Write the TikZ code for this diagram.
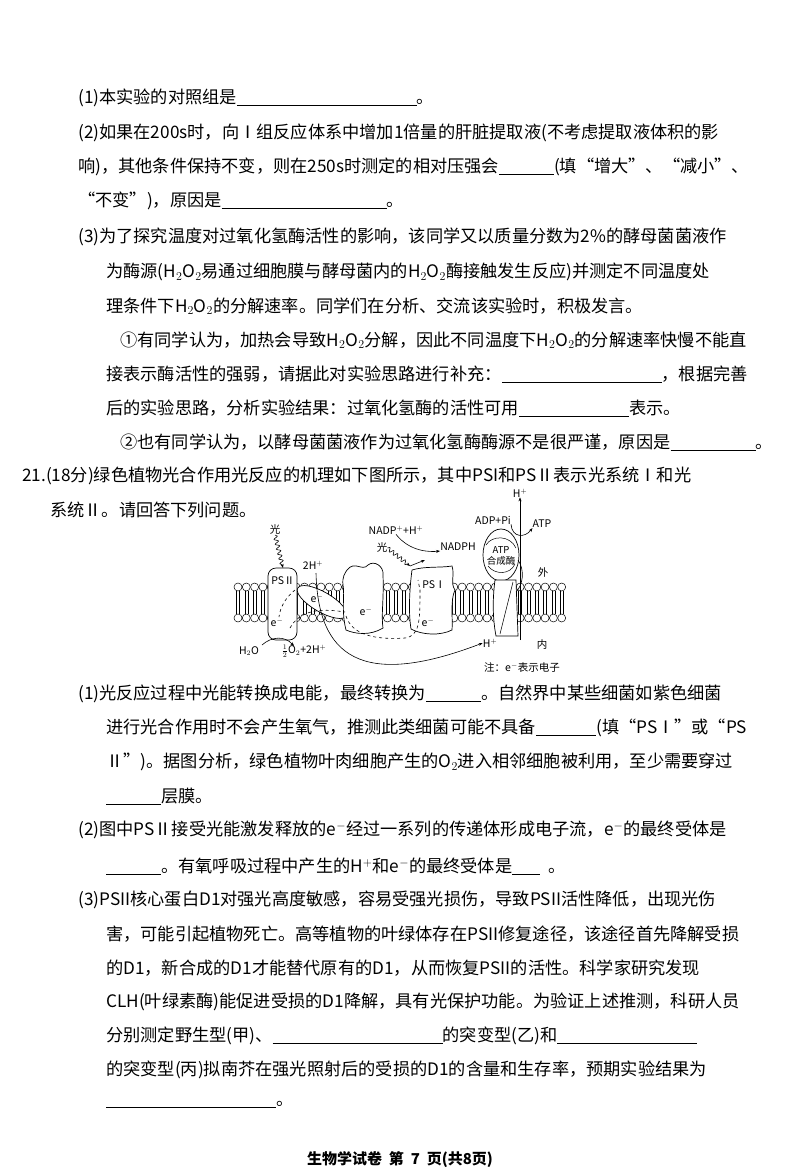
\documentclass[tikz,border=0pt]{standalone}
\usepackage{fontspec}
\setmainfont{Noto Sans CJK SC}
\usetikzlibrary{decorations.pathmorphing,arrows.meta}
\newcommand{\blank}[1]{\rule[-2pt]{#1pt}{0.6pt}}
\begin{document}
\begin{tikzpicture}[x=1pt,y=-1pt,
  tl/.style={anchor=west,inner sep=0pt,font=\fontsize{17.2}{20}\selectfont},
  dl/.style={inner sep=0pt,font=\fontsize{10.5}{12}\selectfont},
  prot/.style={draw,fill=white,line width=0.7pt},
  ea/.style={-{Stealth[length=4pt]},line width=0.6pt},
  wav/.style={decorate,decoration={snake,amplitude=2pt,segment length=5pt,post length=3pt},-{Stealth[length=4pt]},line width=0.6pt}]
\useasboundingbox (0,0) rectangle (800,1176);
\fill[white] (0,0) rectangle (800,1176);
% text
\node[tl] (l1) at (78,98) {(1)本实验的对照组是\blank{180}。};
\node[tl] (l2) at (78,133) {(2)如果在200s时，向Ⅰ组反应体系中增加1倍量的肝脏提取液(不考虑提取液体积的影};
\node[tl] (l3) at (78,167) {响)，其他条件保持不变，则在250s时测定的相对压强会\blank{55}(填“增大”、“减小”、};
\node[tl] (l4) at (78,201) {“不变”)，原因是\blank{165}。};
\node[tl] (l5) at (78,237) {(3)为了探究温度对过氧化氢酶活性的影响，该同学又以质量分数为2\%的酵母菌菌液作};
\node[tl] (l6) at (106,272) {为酶源(H$_2$O$_2$易通过细胞膜与酵母菌内的H$_2$O$_2$酶接触发生反应)并测定不同温度处};
\node[tl] (l7) at (106,306) {理条件下H$_2$O$_2$的分解速率。同学们在分析、交流该实验时，积极发言。};
\node[tl] (l8) at (120,340) {①有同学认为，加热会导致H$_2$O$_2$分解，因此不同温度下H$_2$O$_2$的分解速率快慢不能直};
\node[tl] (l9) at (106,374) {接表示酶活性的强弱，请据此对实验思路进行补充：\blank{160}，根据完善};
\node[tl] (l10) at (106,408) {后的实验思路，分析实验结果：过氧化氢酶的活性可用\blank{110}表示。};
\node[tl] (l11) at (120,442) {②也有同学认为，以酵母菌菌液作为过氧化氢酶酶源不是很严谨，原因是\blank{85}。};
\node[tl] (l12) at (22,476) {21.(18分)绿色植物光合作用光反应的机理如下图所示，其中PSI和PSⅡ表示光系统Ⅰ和光};
\node[tl] (l13) at (50,510) {系统Ⅱ。请回答下列问题。};
\node[tl] (m1) at (78,694) {(1)光反应过程中光能转换成电能，最终转换为\blank{55}。自然界中某些细菌如紫色细菌};
\node[tl] (m2) at (106,728) {进行光合作用时不会产生氧气，推测此类细菌可能不具备\blank{60}(填“PSⅠ”或“PS};
\node[tl] (m3) at (106,762) {Ⅱ”)。据图分析，绿色植物叶肉细胞产生的O$_2$进入相邻细胞被利用，至少需要穿过};
\node[tl] (m4) at (106,796) {\blank{55}层膜。};
\node[tl] (m5) at (78,830) {(2)图中PSⅡ接受光能激发释放的e$^-$经过一系列的传递体形成电子流，e$^-$的最终受体是};
\node[tl] (m6) at (106,866) {\blank{55}。有氧呼吸过程中产生的H$^+$和e$^-$的最终受体是\blank{28}\ \ 。};
\node[tl] (m7) at (78,900) {(3)PSII核心蛋白D1对强光高度敏感，容易受强光损伤，导致PSII活性降低，出现光伤};
\node[tl] (m8) at (106,934) {害，可能引起植物死亡。高等植物的叶绿体存在PSII修复途径，该途径首先降解受损};
\node[tl] (m9) at (106,968) {的D1，新合成的D1才能替代原有的D1，从而恢复PSII的活性。科学家研究发现};
\node[tl] (m10) at (106,1002) {CLH(叶绿素酶)能促进受损的D1降解，具有光保护功能。为验证上述推测，科研人员};
\node[tl] (m11) at (106,1036) {分别测定野生型(甲)、\blank{170}的突变型(乙)和\blank{140}};
\node[tl] (m12) at (106,1070) {的突变型(丙)拟南芥在强光照射后的受损的D1的含量和生存率，预期实验结果为};
\node[tl] (m13) at (106,1104) {\blank{170}。};
\node[inner sep=0pt,font=\fontsize{15}{18}\selectfont\bfseries] (ft) at (400,1160) {生物学试卷\ \ 第\ \ 7\ \ 页(共8页)};
% membrane beads
\foreach \x in {238,246.3,...,562}{
  \draw[line width=0.5pt] (\x-1.5,591) -- (\x-1.5,603) (\x+1.5,591) -- (\x+1.5,603);
  \draw[line width=0.5pt] (\x-1.5,602) -- (\x-1.5,614) (\x+1.5,602) -- (\x+1.5,614);
  \draw[fill=white,line width=0.5pt] (\x,587) circle (4);
  \draw[fill=white,line width=0.5pt] (\x,618) circle (4);
}
% PSII
\draw[prot,rounded corners=8pt] (268,568) rectangle (297,640);
\node[dl] (ps2) at (283,581) {PSⅡ};
\node[dl] (e1) at (277,622) {e$^-$};
% ellipse
\draw[prot,rotate around={-30:(322,602)}] (322,602) ellipse (28 and 10);
\node[dl] (e2) at (317,598) {e$^-$};
% cytochrome
\draw[prot] (347,570) .. controls (355,560) and (362,572) .. (368,565) .. controls (374,560) and (384,566) .. (383,575)
  .. controls (384,600) and (381,615) .. (383,628) .. controls (370,636) and (355,634) .. (346,630)
  .. controls (341,610) and (345,595) .. (343,585) .. controls (342,577) and (345,573) .. (347,570);
\node[dl] (e3) at (366,611) {e$^-$};
% PSI
\draw[prot] (412,570) .. controls (425,566) and (440,568) .. (452,566) .. controls (455,575) and (450,583) .. (455,590)
  .. controls (450,600) and (453,620) .. (452,630) .. controls (440,636) and (422,635) .. (411,629)
  .. controls (408,610) and (410,585) .. (412,570);
\node[dl] (ps1) at (434,585) {PSⅠ};
\node[dl] (e4) at (428,622) {e$^-$};
% electron dashed path
\draw[dashed,line width=0.6pt] (295,590) .. controls (285,598) and (280,608) .. (279,617);
\draw[dashed,line width=0.6pt] (290,628) .. controls (300,610) and (320,608) .. (345,612);
\draw[dashed,line width=0.6pt] (346,616) .. controls (352,635) and (375,640) .. (405,638) .. controls (420,636) and (420,620) .. (420,590) -- (418,580);
% ATP synthase
\draw[prot] (501,555) ellipse (18 and 26);
\draw[line width=0.5pt] (486,545) .. controls (492,535) and (510,535) .. (516,548);
\draw[line width=0.5pt] (488,566) .. controls (495,575) and (510,575) .. (515,564);
\node[dl,align=center,font=\fontsize{9.5}{10.5}\selectfont] (atps) at (501,556) {ATP\\合成酶};
\draw[prot] (495,580) -- (516,580) -- (518,636) -- (496,636) .. controls (492,615) and (493,595) .. (495,580);
\draw[line width=0.5pt] (513,582) -- (500,634);
\draw[line width=0.6pt] (518,560) .. controls (525,570) and (523,585) .. (516,592);
% labels
\coordinate (hbot) at (520,640);
\node[dl] (htop) at (520,493) {H$^+$};
\draw[ea] (hbot) -- (htop.south);
\node[dl] (hin) at (490,643) {H$^+$};
\node[dl] (adp) at (493,520) {ADP+Pi};
\node[dl] (atp) at (542,524) {ATP};
\draw[ea] (adp.south east) .. controls (512,538) and (525,538) .. (atp.south west);
\node[dl] (wai) at (543,572) {外};
\node[dl] (nei) at (542,645) {内};
\node[dl] (note) at (522,667) {注：e$^-$表示电子};
\node[dl] (nadp) at (396,530) {NADP$^+$+H$^+$};
\node[dl] (nadph) at (458,547) {NADPH};
\draw[ea] (nadp.south) .. controls (410,552) and (430,552) .. (nadph.south west);
\node[dl] (g1) at (275,530) {光};
\draw[wav] (g1.south) -- (ps2.north|-568,568);
\node[dl] (g2) at (382,548) {光};
\coordinate (g2e) at (410,566);
\draw[wav] (g2.east) -- (g2e);
\draw[ea] (g2e) -- (425,560);
\node[dl] (twoh) at (313,565) {2H$^+$};
\draw[ea] (316,573) .. controls (318,655) and (360,690) .. (hin.west);
\node[dl] (h2o) at (249,651) {H$_2$O};
\node[dl] (o2) at (304,651) {$\frac{1}{2}$O$_2$+2H$^+$};
\draw[ea] (262,645) .. controls (272,636) and (285,636) .. (294,646);
\end{tikzpicture}
\end{document}
